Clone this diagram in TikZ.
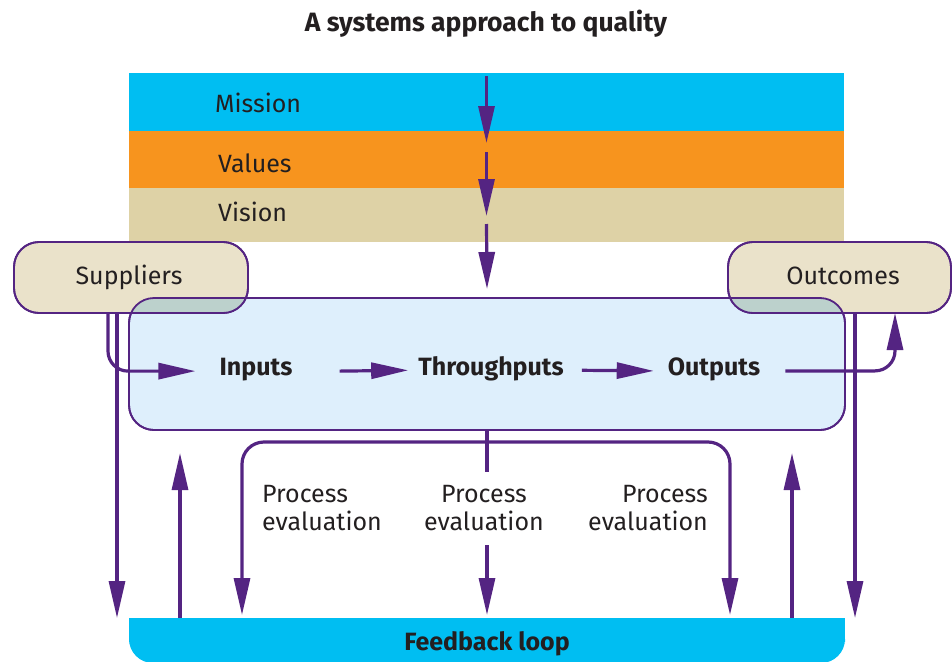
\documentclass[tikz,border=0pt]{standalone}
\usepackage{fontspec}
\setmainfont{Fira Sans}
\usetikzlibrary{arrows.meta,calc}
\definecolor{pur}{RGB}{84,36,130}
\definecolor{cyanband}{RGB}{0,190,242}
\definecolor{orangeband}{RGB}{247,148,30}
\definecolor{beigeband}{RGB}{222,210,166}
\definecolor{boxbeige}{RGB}{234,226,202}
\definecolor{boxblue}{RGB}{222,239,252}
\definecolor{overlapc}{RGB}{188,209,204}
\definecolor{txt}{RGB}{35,31,32}
\begin{document}
\begin{tikzpicture}[x=1pt,y=-1pt,
  band/.style={anchor=north west, minimum width=715pt, inner sep=0pt, outer sep=0pt, draw=none},
  lbl/.style={font=\fontsize{25}{28}\selectfont, text=txt, inner sep=0pt},
  blbl/.style={font=\fontsize{25}{28}\selectfont\bfseries, text=txt, inner sep=0pt},
  rbox/.style={anchor=north west, rounded corners=25pt, draw=pur, line width=1.8pt, inner sep=0pt, outer sep=0pt},
  flow/.style={draw=pur, line width=3.2pt, -{Triangle[length=37pt,width=16pt]}},
  plainline/.style={draw=pur, line width=3.2pt},
  border/.style={draw=pur, line width=1.8pt, rounded corners=25pt},
]
\useasboundingbox (0,0) rectangle (952,661);

% title
\node[font=\fontsize{26.5}{30}\selectfont\bfseries, text=txt, inner sep=0pt, anchor=base] (title) at (486,32) {A systems approach to quality};

% bands
\node[band, fill=cyanband, minimum height=58pt] (mission) at (129,73) {};
\node[band, fill=orangeband, minimum height=57pt] (values) at (129,131) {};
\node[band, fill=beigeband, minimum height=54pt] (vision) at (129,188) {};
\node[lbl, anchor=base west] (missionL) at (215,112) {Mission};
\node[lbl, anchor=base west] (valuesL) at (218,172) {Values};
\node[lbl, anchor=base west] (visionL) at (218,221) {Vision};

% boxes
\node[rbox, fill=boxblue, minimum width=716pt, minimum height=132pt] (sys) at (129,298) {};
\node[rbox, fill=boxbeige, minimum width=234pt, minimum height=71pt] (sup) at (14,242) {};
\node[rbox, fill=boxbeige, minimum width=223pt, minimum height=71pt] (out) at (728,242) {};
\begin{scope}
  \clip[rounded corners=25pt] (sup.north west) rectangle (sup.south east);
  \fill[overlapc, rounded corners=25pt] (sys.north west) rectangle (sys.south east);
\end{scope}
\begin{scope}
  \clip[rounded corners=25pt] (out.north west) rectangle (out.south east);
  \fill[overlapc, rounded corners=25pt] (sys.north west) rectangle (sys.south east);
\end{scope}
\draw[border] (sys.north west) rectangle (sys.south east);
\draw[border] (sup.north west) rectangle (sup.south east);
\draw[border] (out.north west) rectangle (out.south east);

\node[lbl, anchor=base] (supL) at (129,284) {Suppliers};
\node[lbl, anchor=base] (outL) at (843,284) {Outcomes};

% feedback bar
\node[anchor=north west, minimum width=716pt, minimum height=45pt, inner sep=0pt, outer sep=0pt, fill=cyanband, rounded corners=24pt] (fb) at (129,618) {};
\fill[cyanband] (fb.north west) rectangle (fb.east);
\node[blbl, anchor=base] (fbL) at (487,650) {Feedback loop};

% process texts
\node[blbl, anchor=base] (inputs) at (256,375) {Inputs};
\node[blbl, anchor=base] (thr) at (491,375) {Throughputs};
\node[blbl, anchor=base] (outputs) at (714,375) {Outputs};

\node[lbl, anchor=north west, align=left] (pe1) at (262,485) {Process\\evaluation};
\node[lbl, anchor=north, align=center] (pe2) at (484,485) {Process\\evaluation};
\node[lbl, anchor=north east, align=right] (pe3) at (708,485) {Process\\evaluation};

% arrows through bands
\draw[flow] ($(mission.north)+(0,3)$) -- ($(values.north)+(0,12)$);
\draw[flow] ($(values.north)+(0,21)$) -- ($(vision.north)+(0,28)$);
\draw[flow] ($(vision.north)+(0,36)$) -- ($(sys.north)+(0,-9)$);

% supplier arrows
\coordinate (supA) at ($(sup.south west)+(94,0)$);
\coordinate (supB) at ($(sup.south west)+(103,0)$);
\draw[flow, rounded corners=20pt] (supA) |- ($(inputs.west)+(-24,2)$);
\draw[flow] (supB) -- (supB |- fb.north);

% flow inside
\draw[flow] ($(inputs.east)+(47,2)$) -- ($(thr.west)+(-10,2)$);
\draw[flow] ($(thr.east)+(18,2)$) -- ($(outputs.west)+(-14,2)$);

% outcomes
\coordinate (outA) at ($(out.south west)+(167,0)$);
\coordinate (outB) at ($(out.south west)+(127,0)$);
\draw[flow, rounded corners=20pt] ($(outputs.east)+(25,2)$) -| (outA);
\draw[flow] (outB) -- (outB |- fb.north);

% upward arrows
\draw[flow] ($(fb.north west)+(51,0)$) -- ($(sys.south west)+(51,23)$);
\draw[flow] ($(fb.north west)+(663,0)$) -- ($(sys.south west)+(663,23)$);

% process evaluation loop
\coordinate (pj) at ($(sys.south)+(0,12)$);
\draw[flow, rounded corners=22pt] (pj) -| ($(fb.north west)+(113,-3)$);
\draw[flow, rounded corners=22pt] (pj) -| ($(fb.north west)+(601,-3)$);
\draw[plainline] (sys.south) -- ($(sys.south)+(0,42)$);
\draw[flow] ($(fb.north)+(0,-73)$) -- ($(fb.north)+(0,-3)$);
\end{tikzpicture}
\end{document}
